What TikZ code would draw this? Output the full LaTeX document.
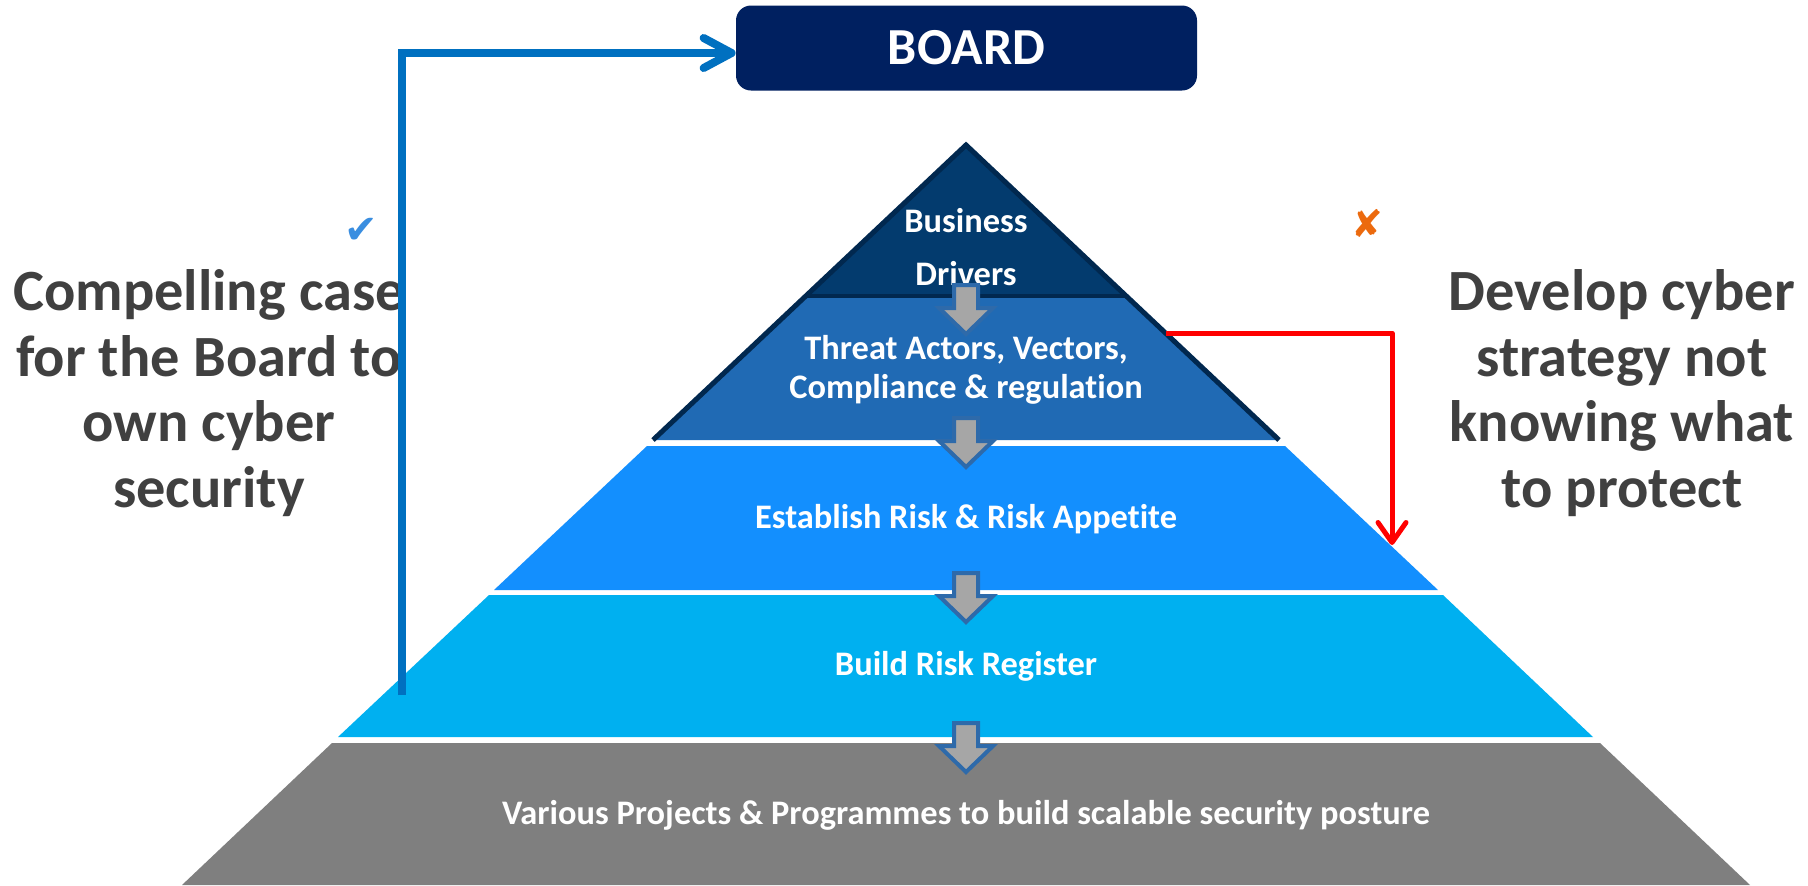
\documentclass[tikz,border=0pt]{standalone}
\usepackage{fontspec}
\setmainfont{Carlito}[Ligatures=NoCommon]
\newfontfamily\symfont{DejaVu Sans}
\usetikzlibrary{arrows.meta, positioning}
\definecolor{BoardBlue}{HTML}{002060}
\definecolor{DriverBlue}{HTML}{033B6E}
\definecolor{PeakEdge}{HTML}{01284F}
\definecolor{ThreatBlue}{HTML}{206AB4}
\definecolor{RiskBlue}{HTML}{138FFE}
\definecolor{RegisterBlue}{HTML}{00B0F0}
\definecolor{ProjectGrey}{HTML}{7F7F7F}
\definecolor{StepGrey}{HTML}{A6A6A6}
\definecolor{StepEdge}{HTML}{2E6AAA}
\definecolor{CaseBlue}{HTML}{0070C0}
\definecolor{TickBlue}{HTML}{3A8EE0}
\definecolor{CrossOrange}{HTML}{EC6A0E}
\definecolor{SideGrey}{HTML}{404040}
\tikzset{
  stepbox/.style = {draw=StepEdge, fill=StepGrey, line width=2pt},
  downstep/.pic = {\path[stepbox] (-12,0) -- (12,0) -- (12,23) -- (27,23) -- (0,49) -- (-27,23) -- (-12,23) -- cycle;}
}

\begin{document}
\begin{tikzpicture} [
    x=0.5pt, y=-0.5pt,
    L/.style = {text=white, font=\fontsize{17.2}{20}\selectfont\bfseries, align=center},
    side/.style = {text=SideGrey, font=\fontsize{29.2}{32.75}\selectfont\bfseries, align=center},
    caseline/.style = {draw=CaseBlue, line width=4pt, -{Straight Barb[length=14pt, width=15pt, round]}},
    stratline/.style = {draw=red, line width=2.5pt, line join=round, -{Straight Barb[length=10pt, width=14pt, round]}}
    ]
  \useasboundingbox[fill=white] (0,0) rectangle (1808,885);

  %%% PROJECTS %%%
  \fill[ProjectGrey] (332,743) -- (1600,743) -- (1750,885) -- (182,885) -- cycle;
  %%% REGISTER %%%
  \fill[RegisterBlue] (489,595) -- (1443,595) -- (1593,737) -- (338,737) -- cycle;
  %%% APPETITE %%%
  \fill[RiskBlue] (647,446) -- (1285,446) -- (1438,590) -- (494,590) -- cycle;
  %%% THREATS %%%
  \fill[ThreatBlue] (806,296) -- (1126,296) -- (1279,440) -- (653,440) -- cycle;
  %%% DRIVERS %%%
  \fill[DriverBlue] (806,296) -- (966,145) -- (1126,296) -- cycle;
  \draw[PeakEdge, line width=2pt] (806,296) -- (1126,296);
  \draw[PeakEdge, line width=2.5pt] (653,440) -- (966,145) -- (1279,440);

  % text labels
  \node[L, font=\fontsize{17.2}{26.5}\selectfont\bfseries] (drivers) at (966,247) {Business\\Drivers};
  \node[L, font=\fontsize{17.2}{19.5}\selectfont\bfseries] (threats) at (966,370) {Threat Actors, Vectors,\\Compliance \& regulation};
  \node[L] (appetite) at (966,519) {Establish Risk \& Risk Appetite};
  \node[L] (register) at (966,666) {Build Risk Register};
  \node[L] (projects) at (966,815) {Various Projects \& Programmes to build scalable security posture};

  % steps down
  \foreach \y in {285,418,573,723}
    \pic at (966,\y) {downstep};

  %%% BOARD %%%
  \node[fill=BoardBlue, rounded corners=7.5pt, minimum width=230.5pt, minimum height=42.5pt,
        text=white, font=\fontsize{26}{30}\selectfont\bfseries] (board) at (966.5,48) {BOARD};

  %%% SIDE NOTES %%%
  \node[side] (case) at (209,393) {Compelling case\\for the Board to\\own cyber\\security};
  \node[side] (strategy) at (1622,393) {Develop cyber\\strategy not\\knowing what\\to protect};
  \node[text=TickBlue, font=\symfont\fontsize{20}{20}\selectfont] (tick) at (361,231) {✔};
  \node[text=CrossOrange, font=\symfont\fontsize{19}{19}\selectfont] (cross) at (1367,223) {✘};

  % Edges
  \coordinate (caseFoot) at (402,695);
  \coordinate (stratStart) at (1166,333);
  \coordinate (stratEnd) at (1392,545);
  \path[caseline] (caseFoot) |- ([yshift=-2.5pt]board.west);
  \path[stratline] (stratStart) -| (stratEnd);

\end{tikzpicture}
\end{document}
